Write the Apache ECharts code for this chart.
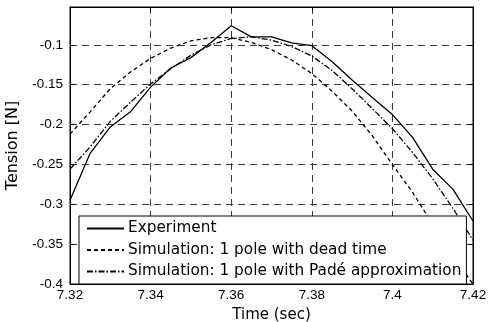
<!DOCTYPE html>
<html><head><meta charset="utf-8">
<script src="https://cdn.jsdelivr.net/npm/echarts@6/dist/echarts.min.js"></script>
<style>html,body{margin:0;padding:0;background:#fff}#c{width:488px;height:322px}</style>
</head><body><div id="c"></div>
<script>
const time = [7.32,7.325,7.33,7.335,7.34,7.345,7.35,7.355,7.36,7.365,7.37,7.375,7.38,7.385,7.39,7.395,7.40,7.405,7.41,7.415,7.42];
const experiment = [-0.295,-0.236,-0.203,-0.184,-0.153,-0.129,-0.116,-0.097,-0.076,-0.090,-0.090,-0.0975,-0.101,-0.121,-0.144,-0.166,-0.1875,-0.216,-0.256,-0.281,-0.321];
const simDeadTime = [-0.212,-0.184,-0.155,-0.134,-0.117,-0.104,-0.095,-0.091,-0.091,-0.097,-0.106,-0.119,-0.136,-0.158,-0.183,-0.214,-0.25,-0.285,-0.325,-0.365,-0.40];
const simPade = [-0.256,-0.228,-0.196,-0.172,-0.149,-0.13,-0.113,-0.100,-0.092,-0.090,-0.094,-0.102,-0.114,-0.132,-0.155,-0.18,-0.205,-0.235,-0.268,-0.305,-0.345];
const names = ['Experiment','Simulation: 1 pole with dead time','Simulation: 1 pole with Padé approximation'];
const xTicks = [7.32,7.34,7.36,7.38,7.40,7.42];
const yTicks = [-0.4,-0.35,-0.3,-0.25,-0.2,-0.15,-0.1];

const font = 'Liberation Sans, Arial, sans-serif';
const wide = 'DejaVu Sans, sans-serif';
const chart = echarts.init(document.getElementById('c'), null, {renderer:'canvas'});
const pair = a => time.map((t,i)=>[t,a[i]]);
const gridLine = {show:true, lineStyle:{color:'#3a3a3a', type:[7,5], width:1}};
const fmtY = v => { const m = yTicks.find(t=>Math.abs(t-v)<1e-9); return m===undefined?'':String(m); };
const fmtX = v => { const m = xTicks.find(t=>Math.abs(t-v)<1e-9); return m===undefined?'':String(+m.toFixed(2)); };
chart.setOption({
  animation:false,
  grid:{left:70,right:15,top:7,bottom:38,show:true,borderColor:'#000',borderWidth:1,backgroundColor:'transparent',outerBoundsMode:'none',containLabel:false},
  xAxis:[{type:'value',min:7.32,max:7.42,interval:0.02,position:'bottom',
    name:'Time (sec)',nameLocation:'middle',nameGap:24,nameTextStyle:{color:'#000',fontSize:15,fontFamily:wide},
    axisLine:{show:true,lineStyle:{color:'#000'}},axisTick:{show:true,inside:true,length:4,lineStyle:{color:'#000'}},
    axisLabel:{color:'#000',fontSize:13.5,fontFamily:font,margin:4,formatter:fmtX},splitLine:gridLine},
   {type:'value',min:7.32,max:7.42,interval:0.02,position:'top',
    axisLine:{show:true,lineStyle:{color:'#000'}},axisTick:{show:true,inside:true,length:4,lineStyle:{color:'#000'}},
    axisLabel:{show:false},splitLine:{show:false}}],
  yAxis:[{type:'value',min:-0.4,max:-0.0525,interval:0.05,position:'left',
    name:'Tension [N]',nameLocation:'middle',nameGap:48,nameRotate:90,nameTextStyle:{color:'#000',fontSize:16,fontFamily:wide},
    axisLine:{show:true,lineStyle:{color:'#000'}},axisTick:{show:true,inside:true,length:4,lineStyle:{color:'#000'}},
    axisLabel:{color:'#000',fontSize:13.5,fontFamily:font,margin:7,formatter:fmtY,showMaxLabel:false},splitLine:gridLine},
   {type:'value',min:-0.4,max:-0.0525,interval:0.05,position:'right',
    axisLine:{show:true,lineStyle:{color:'#000'}},axisTick:{show:true,inside:true,length:4,lineStyle:{color:'#000'}},
    axisLabel:{show:false},splitLine:{show:false}}],
  legend:{orient:'vertical',left:79,top:216,itemWidth:37,itemHeight:10,itemGap:6.5,
    padding:[5,5,5,7],backgroundColor:'#fff',borderColor:'#000',borderWidth:1,borderRadius:0,
    itemStyle:{opacity:0},
    textStyle:{color:'#000',fontSize:15.3,fontFamily:wide,padding:[0,0,0,-1]},
    data:names},
  series:[
    {name:names[0],type:'line',data:pair(experiment),showSymbol:false,symbol:'none',clip:true,
      lineStyle:{color:'#000',width:1.3,type:'solid'},itemStyle:{color:'#000'}},
    {name:names[1],type:'line',data:pair(simDeadTime),showSymbol:false,symbol:'none',clip:true,
      lineStyle:{color:'#000',width:1.3,type:[4,3]},itemStyle:{color:'#000'}},
    {name:names[2],type:'line',data:pair(simPade),showSymbol:false,symbol:'none',clip:true,
      lineStyle:{color:'#000',width:1.3,type:[6,2,1.5,2]},itemStyle:{color:'#000'}}
  ]
});
</script></body></html>
